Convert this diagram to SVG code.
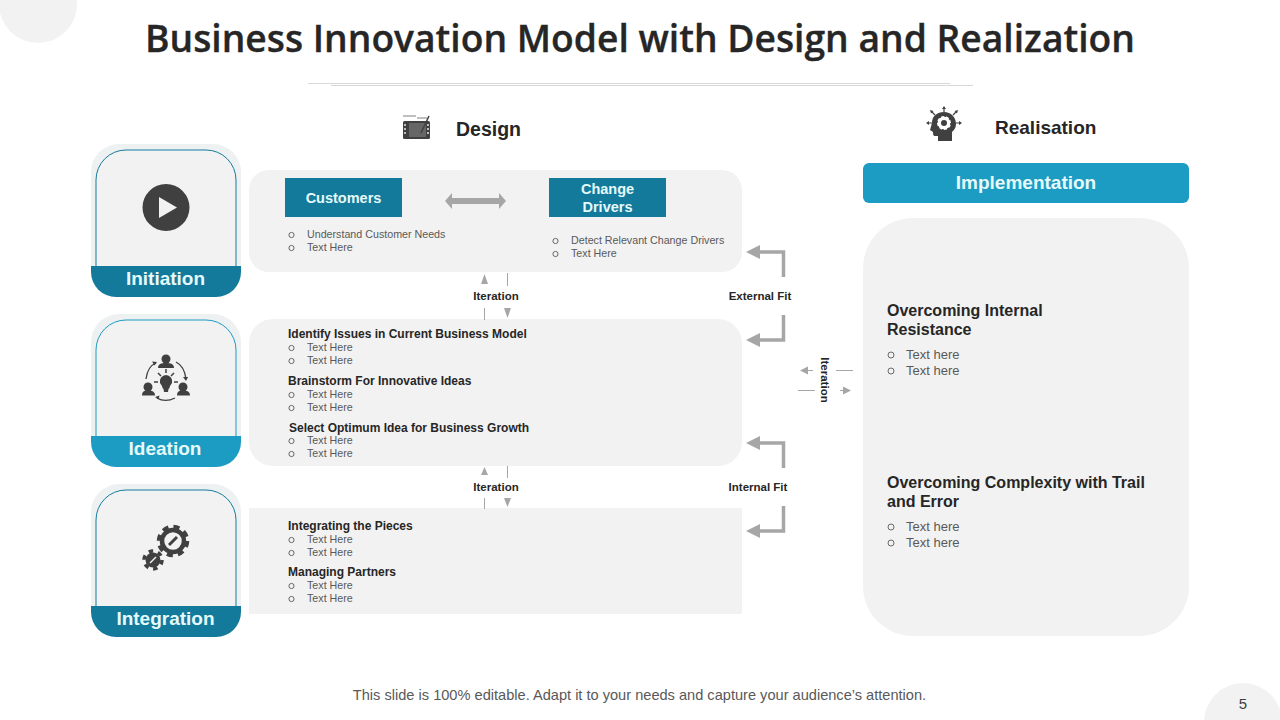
<svg xmlns="http://www.w3.org/2000/svg" width="1280" height="720" viewBox="0 0 1280 720">
<style>
text{font-family:"Liberation Sans",Arial,sans-serif}
.title{font-family:"Open Sans","Liberation Sans",sans-serif;font-size:38px;font-weight:600;fill:#262626;stroke:#262626;stroke-width:.35px}
.head{font-weight:700;fill:#262626}
.card{font-size:19px;font-weight:700;fill:#e6fafa;text-anchor:middle}
.box{font-size:14.500px;font-weight:700;fill:#e6fafa;text-anchor:middle}
.bl{font-size:12px;font-weight:700;fill:#262626}
.sm{font-size:10.700px;fill:#595959}
.lab{font-size:11.500px;font-weight:700;fill:#262626;text-anchor:middle}
.rh{font-size:16px;font-weight:700;fill:#262626}
.rt{font-size:13px;fill:#595959}
.p{fill:#f2f2f2}
.dot{fill:none;stroke:#595959;stroke-width:.9}
.gl{fill:none;stroke:#a6a6a6;stroke-width:3.500}
.gt{fill:none;stroke:#a6a6a6;stroke-width:1}
.ga{fill:#a6a6a6}
.ic{fill:#404040}
.ics{fill:none;stroke:#404040}
</style>
<defs>
<circle id="b" r="2.600" class="dot"/>
<circle id="br" r="3" class="dot"/>
</defs>

<g id="background">
<circle cx="38" cy="4" r="39" fill="#f2f2f2"/>
<circle cx="1243" cy="722" r="39" fill="#f2f2f2"/>
<path d="M308 83.500H950" stroke="#d9d9d9" fill="none"/>
<path d="M331 85.500H973" stroke="#d9d9d9" fill="none"/>
</g>
<text class="title" x="145" y="52" textLength="990" lengthAdjust="spacingAndGlyphs">Business Innovation Model with Design and Realization</text>

<g id="design-header">
<g transform="translate(403 114)">
<path d="M0 2H13M14 4H24" stroke="#808080" stroke-width="1" fill="none"/>
<rect x="0" y="7" width="27" height="18" rx="1.500" fill="#404040"/>
<rect x="6" y="9" width="17" height="14" fill="#666"/>
<path d="M2 10v2M2 14v2M2 18v2M25 10v2M25 14v2M25 18v2" stroke="#e6e6e6" stroke-width="1.500"/>
<path d="M18 19 L26 2" stroke="#404040" stroke-width="1.500"/>
</g>
<text class="head" font-size="19.500" x="456" y="136">Design</text>
</g>

<g id="realisation-header">
<g transform="translate(944 124)">
<path d="M-12 -1C-12 -8 -7 -12 0 -12C7 -12 12 -7 12 0C12 4 10 6 8 8V17H-6V12H-9C-11 12 -11 10 -11 8L-14 6Z" class="ic"/>
<circle cx="0" cy="-1" r="7" fill="#fff"/>
<circle cx="0" cy="-1" r="3" fill="#404040"/>
<circle cx="0" cy="-1" r="7" fill="none" stroke="#404040" stroke-width="1.500" stroke-dasharray="2 3.500"/>
<path d="M0 -12V-16M-9 -9L-12 -12M9 -9L12 -12M-12 -1H-16M12 -1H16" stroke="#404040" stroke-width="1.200"/>
<path d="M0 -18l-2 3h4zM-14 -14l1 3.500 2.500-2.500zM14 -14l-1 3.500-2.500-2.500zM-18 -1l3-2v4zM18 -1l-3-2v4z" class="ic"/>
</g>
<text class="head" font-size="19" x="995" y="134">Realisation</text>
</g>

<g id="card-initiation">
<rect x="91" y="144" width="150" height="153" rx="28" fill="#eef1f2"/>
<path d="M96 270V180a30 30 0 0 1 30-30h80a30 30 0 0 1 30 30v90Z" fill="#f2f2f2" stroke="#157b9e" stroke-width="1"/>
<path d="M91 266H241V272a25 25 0 0 1-25 25H116a25 25 0 0 1-25-25Z" fill="#137a9c"/>
<circle cx="166" cy="207.500" r="23.500" fill="#404040"/>
<path d="M159 197L177 207.500 159 218Z" fill="#f2f2f2"/>
<text class="card" x="165.500" y="285">Initiation</text>
</g>

<g id="card-ideation">
<rect x="91" y="314" width="150" height="153" rx="28" fill="#eef1f2"/>
<path d="M96 440V350a30 30 0 0 1 30-30h80a30 30 0 0 1 30 30v90Z" fill="#f2f2f2" stroke="#1b9bc2" stroke-width="1"/>
<path d="M91 436H241V442a25 25 0 0 1-25 25H116a25 25 0 0 1-25-25Z" fill="#1c9bc3"/>
<g class="ic">
<circle cx="166" cy="359" r="4.500"/><path d="M158 368c0-4 3-5 8-5s8 1 8 5z"/>
<circle cx="148" cy="387" r="4.500"/><path d="M142 395.500c0-4 2-5 6-5s7 1 7 5z"/>
<circle cx="183" cy="387" r="4.500"/><path d="M177 395.500c0-4 2-5 6-5s7 1 7 5z"/>
<path d="M166 375a6.500 6.500 0 0 1 6 8c-1 2-2.500 3-2.500 5l-1 1-.5 3h-4l-.5-3-1-1c0-2-1.500-3-2.500-5a6.500 6.500 0 0 1 6-8z"/>
</g>
<path d="M166 369V373M158 373L161 376M174 373L171 376M154 382H158M174 382H178" stroke="#404040" stroke-width="1.500"/>
<path d="M146 379C147 371 151 365 156 363M176 362C182 365 185 371 186 379M175 398C169 401 162 401 157 398" class="ics" stroke-width="1.300"/>
<path d="M157 362l-5-.5 2.500 4zM186 381l-3-4 5 0zM155 397l4.500-1.500-1 4z" class="ic"/>
<text class="card" x="165" y="455">Ideation</text>
</g>

<g id="card-integration">
<rect x="91" y="484" width="150" height="153" rx="28" fill="#eef1f2"/>
<path d="M96 610V520a30 30 0 0 1 30-30h80a30 30 0 0 1 30 30v90Z" fill="#f2f2f2" stroke="#157b9e" stroke-width="1"/>
<path d="M91 606H241V612a25 25 0 0 1-25 25H116a25 25 0 0 1-25-25Z" fill="#137a9c"/>
<circle cx="173" cy="541" r="11" fill="none" stroke="#404040" stroke-width="4.500"/>
<circle cx="173" cy="541" r="14" fill="none" stroke="#404040" stroke-width="4.500" stroke-dasharray="6 5"/>
<path d="M169 545L177 537" stroke="#404040" stroke-width="3"/>
<circle cx="153" cy="560" r="7.500" fill="#404040"/>
<circle cx="153" cy="560" r="9" fill="none" stroke="#404040" stroke-width="3.500" stroke-dasharray="4.500 4.950"/>
<path d="M150 563L156 557" stroke="#f2f2f2" stroke-width="1.500"/>
<text class="card" x="165.500" y="625">Integration</text>
</g>

<g id="panel-customers">
<rect x="249" y="170" width="493" height="102" rx="20" class="p"/>
<rect x="285" y="178" width="117" height="39" fill="#137a9c"/>
<text class="box" x="343.500" y="203">Customers</text>
<rect x="549" y="178" width="117" height="39" fill="#137a9c"/>
<text class="box" x="607.500" y="194">Change</text>
<text class="box" x="607.500" y="212">Drivers</text>
<path d="M445 201L452 193V198H499V193L506 201 499 209V204H452V209Z" class="ga"/>
<use href="#b" x="291.500" y="235"/><text class="sm" x="307" y="238">Understand Customer Needs</text>
<use href="#b" x="291.500" y="248"/><text class="sm" x="307" y="251">Text Here</text>
<use href="#b" x="555.500" y="241"/><text class="sm" x="571" y="244">Detect Relevant Change Drivers</text>
<use href="#b" x="555.500" y="254"/><text class="sm" x="571" y="257">Text Here</text>
</g>

<g id="panel-ideas">
<rect x="249" y="319" width="493" height="147" rx="24" class="p"/>
<text class="bl" x="288" y="338">Identify Issues in Current Business Model</text>
<use href="#b" x="291.500" y="348"/><text class="sm" x="307" y="351">Text Here</text>
<use href="#b" x="291.500" y="361"/><text class="sm" x="307" y="364">Text Here</text>
<text class="bl" x="288" y="385">Brainstorm For Innovative Ideas</text>
<use href="#b" x="291.500" y="395"/><text class="sm" x="307" y="398">Text Here</text>
<use href="#b" x="291.500" y="408"/><text class="sm" x="307" y="411">Text Here</text>
<text class="bl" x="289" y="432">Select Optimum Idea for Business Growth</text>
<use href="#b" x="291.500" y="441"/><text class="sm" x="307" y="444">Text Here</text>
<use href="#b" x="291.500" y="454"/><text class="sm" x="307" y="457">Text Here</text>
</g>

<g id="panel-integrating">
<rect x="249" y="508" width="493" height="106" class="p"/>
<text class="bl" x="288" y="530">Integrating the Pieces</text>
<use href="#b" x="291.500" y="540"/><text class="sm" x="307" y="543">Text Here</text>
<use href="#b" x="291.500" y="553"/><text class="sm" x="307" y="556">Text Here</text>
<text class="bl" x="288" y="576">Managing Partners</text>
<use href="#b" x="291.500" y="586"/><text class="sm" x="307" y="589">Text Here</text>
<use href="#b" x="291.500" y="599"/><text class="sm" x="307" y="602">Text Here</text>
</g>

<g id="implementation">
<rect x="863" y="163" width="326" height="40" rx="6" fill="#1c9bc3"/>
<text x="1026" y="189" text-anchor="middle" font-size="19" font-weight="700" fill="#e6fafa">Implementation</text>
</g>

<g id="panel-realisation">
<rect x="863" y="218" width="326" height="418" rx="50" class="p"/>
<text class="rh" x="887" y="316">Overcoming Internal</text>
<text class="rh" x="887" y="335">Resistance</text>
<use href="#br" x="891" y="355"/><text class="rt" x="906" y="359">Text here</text>
<use href="#br" x="891" y="371"/><text class="rt" x="906" y="375">Text here</text>
<text class="rh" x="887" y="488">Overcoming Complexity with Trail</text>
<text class="rh" x="887" y="507">and Error</text>
<use href="#br" x="891" y="527"/><text class="rt" x="906" y="531">Text here</text>
<use href="#br" x="891" y="543"/><text class="rt" x="906" y="547">Text here</text>
</g>

<g id="connectors">
<path class="gt" d="M484.500 308V320M507.500 273V286M484.500 498V509M507.500 466V478"/>
<path class="ga" d="M481 284L484.500 274 488 284ZM504 308L507.500 318 511 308ZM481 475L484.500 467 488 475ZM504 498L507.500 507 511 498Z"/>
<path class="gl" d="M783.500 277V252H756"/><path class="ga" d="M746 252L760 245V259Z"/>
<path class="gl" d="M783.500 315V340H756"/><path class="ga" d="M746 340L760 333V347Z"/>
<path class="gl" d="M783.500 468V443H756"/><path class="ga" d="M746 443L760 436V450Z"/>
<path class="gl" d="M783.500 506V531H756"/><path class="ga" d="M746 531L760 524V538Z"/>
<path class="gt" d="M836 370.500H853M798 390.500H815M806 370.500H813M840 390.500H846"/>
<path class="ga" d="M800 370.500L808 366.500V374.500ZM851 390.500L843 386.500V394.500Z"/>
</g>

<g id="labels">
<text class="lab" x="496" y="300">Iteration</text>
<text class="lab" x="496" y="491">Iteration</text>
<text class="lab" x="760" y="300">External Fit</text>
<text class="lab" x="758" y="491">Internal Fit</text>
<text class="lab" transform="translate(820.500 380) rotate(90)">Iteration</text>
</g>

<text x="639.500" y="700" text-anchor="middle" font-size="14.600" fill="#595959">This slide is 100% editable. Adapt it to your needs and capture your audience’s attention.</text>
<text x="1243" y="709" text-anchor="middle" font-size="15" fill="#404040">5</text>
</svg>
